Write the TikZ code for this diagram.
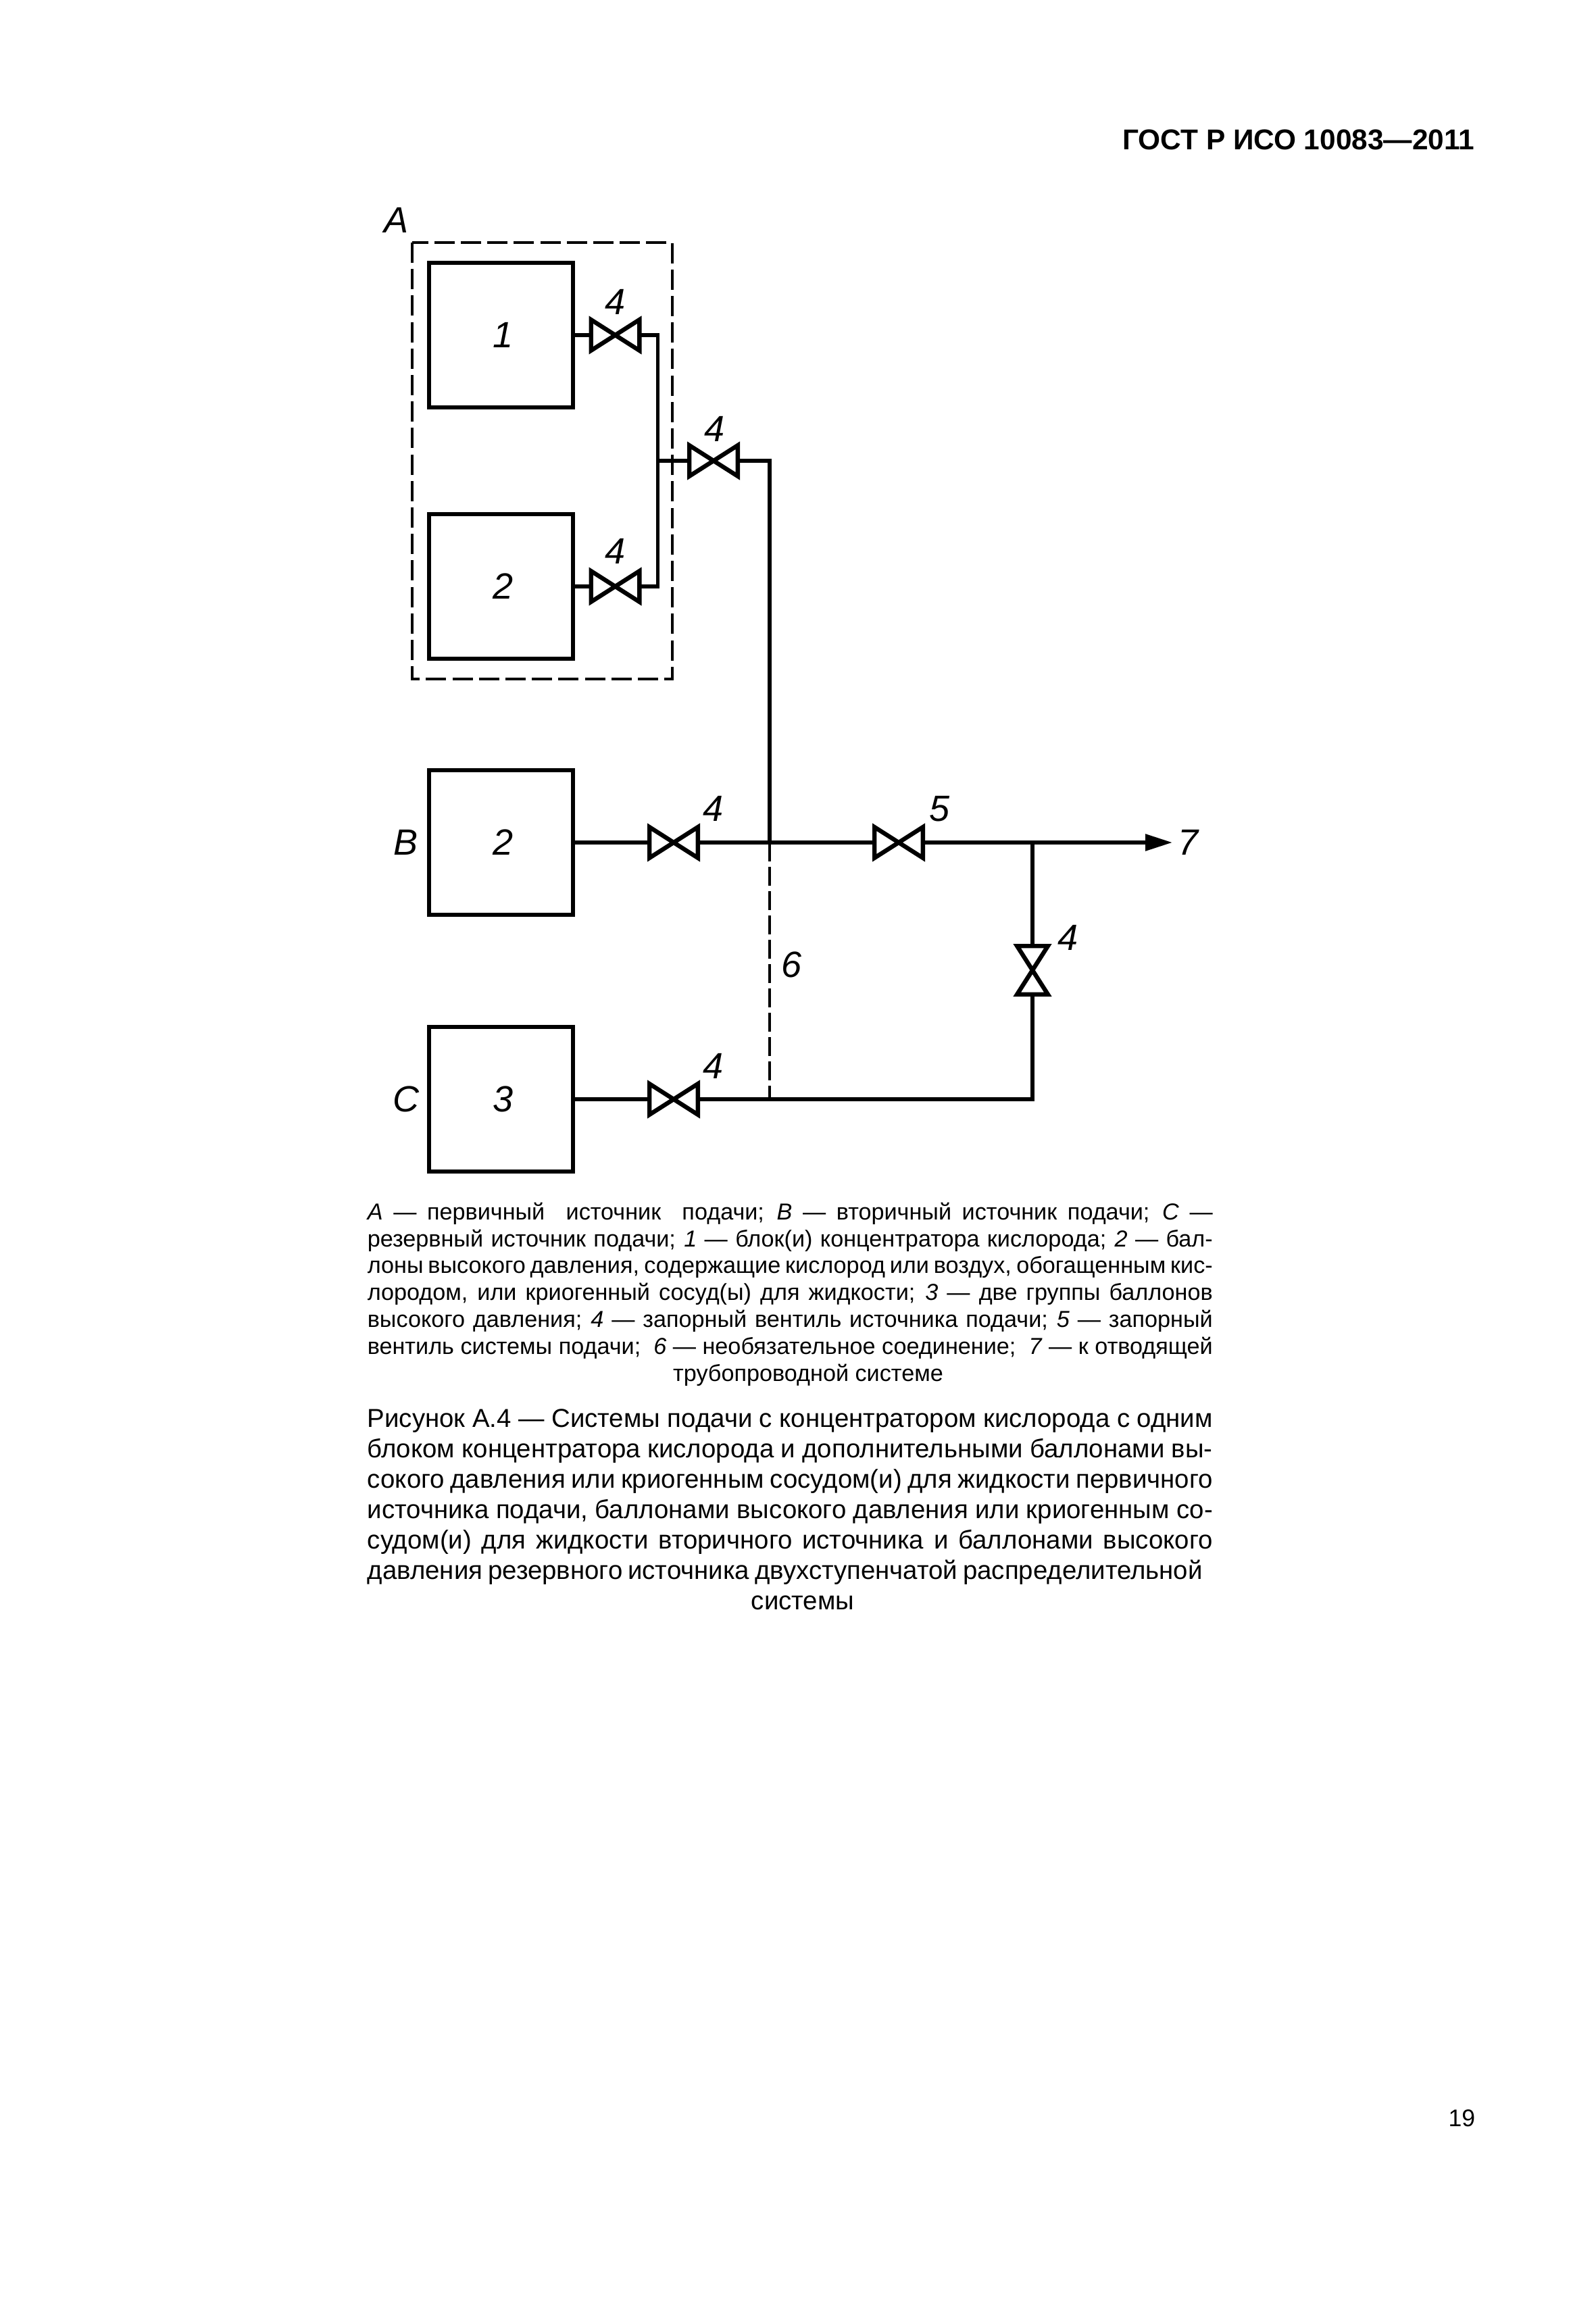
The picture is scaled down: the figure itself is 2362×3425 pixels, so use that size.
\documentclass[tikz,border=0pt]{standalone}
\usepackage{fontspec}
\usepackage{xcolor}
\usepackage{tikz}
\usetikzlibrary{arrows.meta, positioning}
\setmainfont{Liberation Sans}
\newcommand{\valve}[3]{%
  \node[valvebox, rotate=#3] (#1) at (#2) {};
  \draw[valveline] (#1.north west) -- (#1.south east) -- (#1.north east) -- (#1.south west) -- cycle;
}
\newcommand{\textrow}[2]{\makebox[#1][s]{#2}}

\begin{document}
\begin{tikzpicture}[
  x=0.25pt, y=-0.25pt,
  unit/.style={rectangle, draw=black, line width=1.6pt, minimum width=53.25pt,
               minimum height=53.5pt, inner sep=0pt, font=\fontsize{13.5}{15}\selectfont\itshape,
               execute at begin node=\kern1.6pt},
  valvebox/.style={rectangle, inner sep=0pt, minimum width=17.5pt, minimum height=11pt},
  valveline/.style={line width=1.6pt, line join=miter},
  pipe/.style={line width=1.4pt},
  optional/.style={line width=0.8pt, dash pattern=on 7pt off 2pt},
  tag/.style={font=\fontsize{13.5}{15}\selectfont\itshape, inner sep=0pt},
  legendrow/.style={anchor=base west, inner sep=0pt, font=\fontsize{8.55}{10}\selectfont},
  captionrow/.style={anchor=base west, inner sep=0pt, font=\fontsize{9.6}{11}\selectfont}
]
  \useasboundingbox (0,0) rectangle (2362,3425);
  \fill[white] (0,0) rectangle (2362,3425);

  \node[anchor=base east, inner sep=0pt, font=\fontsize{10.6}{12}\selectfont\bfseries] (header) at (2183,222) {ГОСТ Р ИСО 10083—2011};

  % primary source
  \draw[line width=0.8pt, dash pattern=on 7.5pt off 2.3pt] (610,359) rectangle (995,1005);
  \node[tag] (lA) at (587,326) {A};
  \node[unit] (bone) at (741.5,496) {1};
  \node[unit] (btwo) at (741.5,868) {2};
  \node[unit] (bB) at (741.5,1247) {2};
  \node[unit] (bC) at (741.5,1627) {3};
  \node[tag] (lB) at (601,1247) {B};
  \node[tag] (lC) at (601,1627) {C};

  % valves
  \valve{vone}{910.5,496}{0}
  \valve{vtwo}{910.5,868}{0}
  \valve{vtop}{1056,682}{0}
  \valve{vB}{997,1247}{0}
  \valve{vC}{997,1627}{0}
  \valve{vfive}{1330,1247}{0}
  \valve{vside}{1528,1436}{90}

  \node[tag] (l4a) at (911,447) {4};
  \node[tag] (l4b) at (911,816) {4};
  \node[tag] (l4c) at (1058,635) {4};
  \node[tag] (l4d) at (1056,1197) {4};
  \node[tag] (l5) at (1390,1197) {5};
  \node[tag] (l6) at (1172,1428) {6};
  \node[tag] (l4e) at (1580,1388) {4};
  \node[tag] (l4f) at (1056,1578) {4};
  \node[tag] (l7) at (1758,1247) {7};

  \coordinate (bus) at (973.5,682);
  \coordinate (tee) at (1139,1247);
  \coordinate (lowtee) at (1139,1627);
  \coordinate (branch) at (1528,1247);
  \coordinate (outlet) at (1735,1247);

  \draw[pipe] (bone.east) -- (vone.west);
  \draw[pipe] (btwo.east) -- (vtwo.west);
  \draw[pipe] (vone.east) -| (bus) |- (vtwo.east);
  \draw[pipe] (bus) -- (vtop.west);
  \draw[pipe] (vtop.east) -| (tee);
  \draw[pipe] (bB.east) -- (vB.west);
  \draw[pipe] (vB.east) -- (vfive.west);
  \draw[pipe, -{Stealth[length=10pt, width=6pt, inset=0pt]}] (vfive.east) -- (outlet);
  \draw[pipe] (branch) -- (vside.east);
  \draw[pipe] (vside.west) |- (vC.east);
  \draw[pipe] (bC.east) -- (vC.west);
  \draw[optional] (tee) -- (lowtee);

  % legend
  \foreach \rowy/\rowt in {
    1805/{\textit{A} — первичный\ \ источник\ \ подачи; \textit{B} — вторичный источник подачи; \textit{C} —},
    1845/{резервный источник подачи; \textit{1} — блок(и) концентратора кислорода; \textit{2} — бал-},
    1884/{лоны высокого давления, содержащие кислород или воздух, обогащенным кис-},
    1924/{лородом, или криогенный сосуд(ы) для жидкости; \textit{3} — две группы баллонов},
    1964/{высокого давления; \textit{4} — запорный вентиль источника подачи; \textit{5} — запорный},
    2004/{вентиль системы подачи;\ \ \textit{6} — необязательное соединение;\ \ \textit{7} — к отводящей}}
    \node[legendrow] (leg\rowy) at (543,\rowy) {\textrow{312.75pt}{\rowt}};
  \node[anchor=base, inner sep=0pt, font=\fontsize{8.55}{10}\selectfont] (leglast) at (1196,2044) {трубопроводной системе};

  % caption
  \foreach \rowy/\rowt in {
    2112/{Рисунок А.4 — Системы подачи с концентратором кислорода с одним},
    2157/{блоком концентратора кислорода и дополнительными баллонами вы-},
    2202/{сокого давления или криогенным сосудом(и) для жидкости первичного},
    2247/{источника подачи, баллонами высокого давления или криогенным со-},
    2292/{судом(и) для жидкости вторичного источника и баллонами высокого}}
    \node[captionrow] (cap\rowy) at (543,\rowy) {\textrow{312.75pt}{\rowt}};
  \node[captionrow] (cap2337) at (543,2337) {\textrow{309pt}{давления резервного источника двухступенчатой распределительной}};
  \node[anchor=base, inner sep=0pt, font=\fontsize{9.6}{11}\selectfont] (caplast) at (1188,2382) {системы};

  \node[anchor=base east, inner sep=0pt, font=\fontsize{8.9}{11}\selectfont] (pagenum) at (2184,3147) {19};
\end{tikzpicture}
\end{document}
